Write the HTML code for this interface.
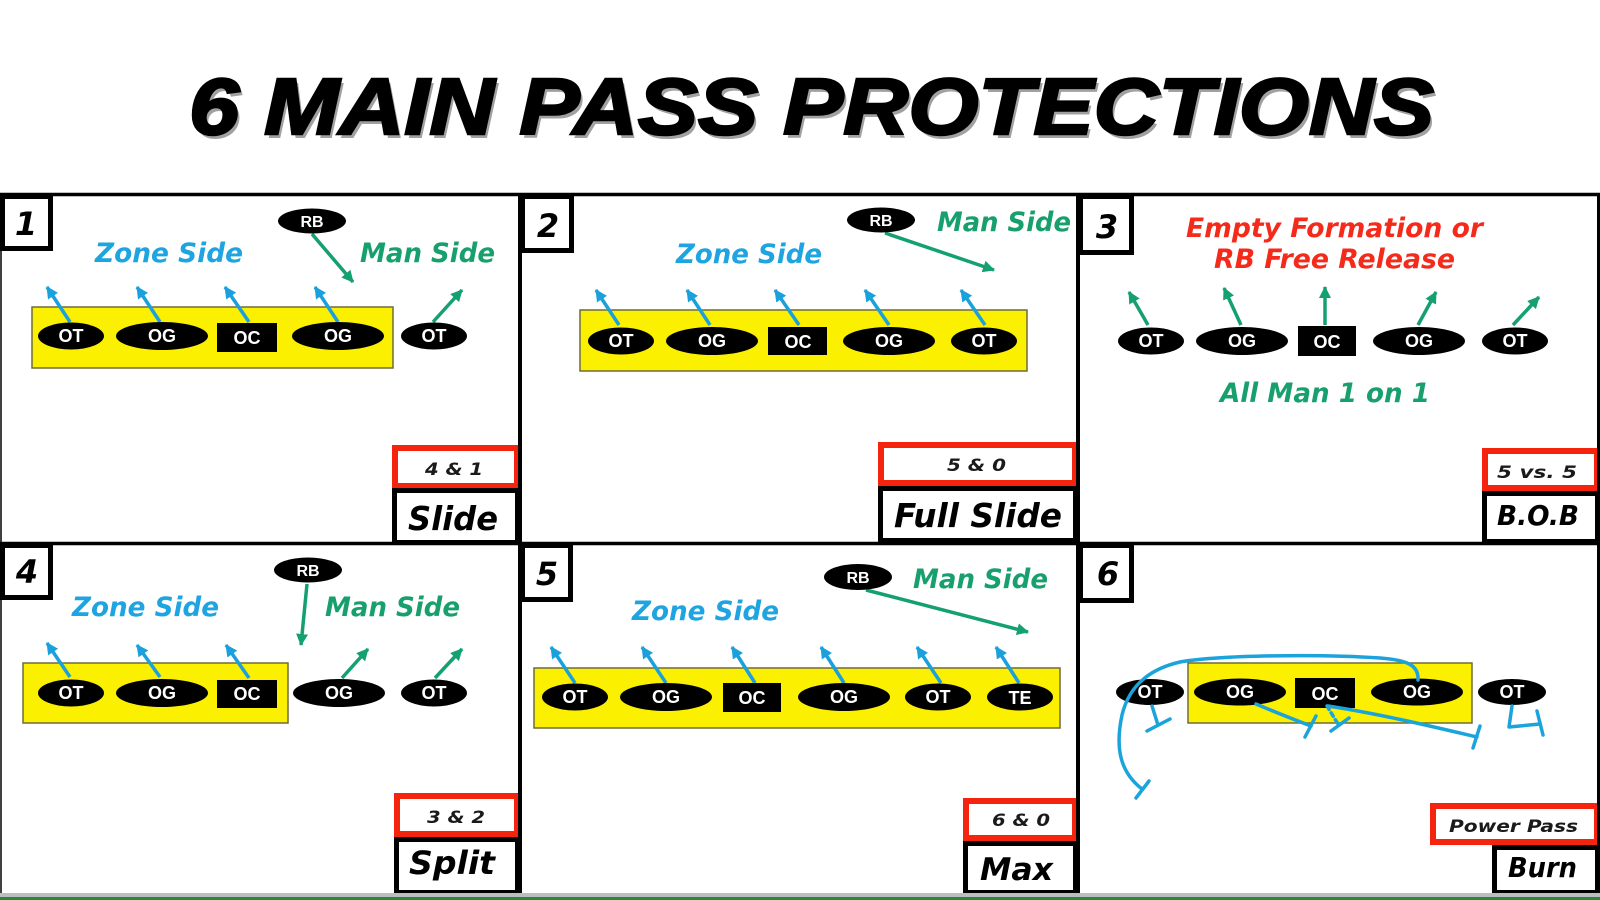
<!DOCTYPE html>
<html>
<head>
<meta charset="utf-8">
<style>
  html, body { margin:0; padding:0; background:#fff; }
  svg { display:block; }
  .lbl { font-family:"DejaVu Sans","Liberation Sans",sans-serif; font-weight:bold; font-style:oblique; }
  .pl { font-family:"Liberation Sans","DejaVu Sans",sans-serif; font-weight:bold; fill:#fff; font-size:18px; }
</style>
</head>
<body>
<svg width="1600" height="900" viewBox="0 0 1600 900" xmlns="http://www.w3.org/2000/svg">
  <defs>
    <marker id="ab" markerUnits="userSpaceOnUse" markerWidth="14" markerHeight="14" refX="11" refY="6" orient="auto">
      <path d="M0,0 L12,6 L0,12 z" fill="#1aa0dc"/>
    </marker>
    <marker id="ag" markerUnits="userSpaceOnUse" markerWidth="14" markerHeight="14" refX="11" refY="6" orient="auto">
      <path d="M0,0 L12,6 L0,12 z" fill="#14a070"/>
    </marker>
  </defs>

  <rect x="0" y="0" width="1600" height="900" fill="#fff"/>

  <!-- Title -->
  <text x="192" y="138" font-family="Liberation Sans, sans-serif" font-weight="bold" font-style="italic" font-size="80" fill="#8a8a8a" textLength="1245" lengthAdjust="spacingAndGlyphs" opacity="0.8">6 MAIN PASS PROTECTIONS</text>
  <text x="189" y="134" font-family="Liberation Sans, sans-serif" font-weight="bold" font-style="italic" font-size="80" fill="#000" stroke="#000" stroke-width="2.5" textLength="1245" lengthAdjust="spacingAndGlyphs">6 MAIN PASS PROTECTIONS</text>

  <!-- Yellow line boxes -->
  <g fill="#fbf000" stroke="#6e6c3a" stroke-width="1.5">
    <rect x="32" y="307" width="361" height="61"/>
    <rect x="580" y="310" width="447" height="61"/>
    <rect x="23" y="663" width="265" height="60"/>
    <rect x="534" y="668" width="526" height="60"/>
    <rect x="1188" y="663" width="284" height="60"/>
  </g>

  <!-- Arrows -->
  <g stroke-width="3.5" fill="none">
    <!-- Panel 1 -->
    <g stroke="#1aa0dc" marker-end="url(#ab)">
      <line x1="70" y1="322" x2="47" y2="287"/>
      <line x1="160" y1="322" x2="137" y2="287"/>
      <line x1="249" y1="322" x2="225" y2="287"/>
      <line x1="338" y1="322" x2="315" y2="287"/>
    </g>
    <g stroke="#14a070" marker-end="url(#ag)">
      <line x1="433" y1="322" x2="462" y2="290"/>
      <line x1="312" y1="234" x2="353" y2="282"/>
    </g>
    <!-- Panel 2 -->
    <g stroke="#1aa0dc" marker-end="url(#ab)">
      <line x1="619" y1="325" x2="596" y2="290"/>
      <line x1="710" y1="325" x2="687" y2="290"/>
      <line x1="799" y1="325" x2="775" y2="290"/>
      <line x1="889" y1="325" x2="865" y2="290"/>
      <line x1="985" y1="325" x2="961" y2="290"/>
    </g>
    <g stroke="#14a070" marker-end="url(#ag)">
      <line x1="885" y1="233" x2="994" y2="270"/>
    </g>
    <!-- Panel 3 -->
    <g stroke="#14a070" marker-end="url(#ag)">
      <line x1="1148" y1="325" x2="1129" y2="292"/>
      <line x1="1241" y1="325" x2="1224" y2="288"/>
      <line x1="1325" y1="325" x2="1325" y2="287"/>
      <line x1="1418" y1="325" x2="1436" y2="292"/>
      <line x1="1513" y1="325" x2="1539" y2="297"/>
    </g>
    <!-- Panel 4 -->
    <g stroke="#1aa0dc" marker-end="url(#ab)">
      <line x1="70" y1="677" x2="47" y2="643"/>
      <line x1="160" y1="677" x2="137" y2="645"/>
      <line x1="249" y1="678" x2="226" y2="645"/>
    </g>
    <g stroke="#14a070" marker-end="url(#ag)">
      <line x1="342" y1="678" x2="368" y2="649"/>
      <line x1="435" y1="678" x2="462" y2="649"/>
      <line x1="307" y1="584" x2="301" y2="645"/>
    </g>
    <!-- Panel 5 -->
    <g stroke="#1aa0dc" marker-end="url(#ab)">
      <line x1="575" y1="683" x2="551" y2="647"/>
      <line x1="666" y1="683" x2="642" y2="647"/>
      <line x1="755" y1="683" x2="732" y2="647"/>
      <line x1="844" y1="683" x2="821" y2="647"/>
      <line x1="941" y1="683" x2="917" y2="647"/>
      <line x1="1019" y1="683" x2="996" y2="647"/>
    </g>
    <g stroke="#14a070" marker-end="url(#ag)">
      <line x1="866" y1="590" x2="1028" y2="632"/>
    </g>
  </g>

  <!-- Players -->
  <g fill="#000">
    <!-- Panel 1 -->
    <ellipse cx="71" cy="336" rx="33" ry="13.5"/>
    <ellipse cx="162" cy="336" rx="46" ry="14"/>
    <rect x="217" y="323" width="60" height="29"/>
    <ellipse cx="338" cy="336" rx="46" ry="14"/>
    <ellipse cx="434" cy="336" rx="33" ry="13.5"/>
    <ellipse cx="312" cy="221" rx="34" ry="12.5"/>
    <!-- Panel 2 -->
    <ellipse cx="621" cy="341" rx="33" ry="13.5"/>
    <ellipse cx="712" cy="341" rx="46" ry="14"/>
    <rect x="768" y="327" width="59" height="28"/>
    <ellipse cx="889" cy="341" rx="46" ry="14"/>
    <ellipse cx="984" cy="341" rx="33" ry="13.5"/>
    <ellipse cx="881" cy="220" rx="34" ry="12.5"/>
    <!-- Panel 3 -->
    <ellipse cx="1151" cy="341" rx="33" ry="13.5"/>
    <ellipse cx="1242" cy="341" rx="46" ry="14"/>
    <rect x="1298" y="326" width="58" height="30"/>
    <ellipse cx="1419" cy="341" rx="46" ry="14"/>
    <ellipse cx="1515" cy="341" rx="33" ry="13.5"/>
    <!-- Panel 4 -->
    <ellipse cx="71" cy="693" rx="33" ry="13.5"/>
    <ellipse cx="162" cy="693" rx="46" ry="14"/>
    <rect x="217" y="680" width="60" height="28"/>
    <ellipse cx="339" cy="693" rx="46" ry="14"/>
    <ellipse cx="434" cy="693" rx="33" ry="13.5"/>
    <ellipse cx="308" cy="570" rx="34" ry="12.5"/>
    <!-- Panel 5 -->
    <ellipse cx="575" cy="697" rx="33" ry="13.5"/>
    <ellipse cx="666" cy="697" rx="46" ry="14"/>
    <rect x="723" y="683" width="58" height="29"/>
    <ellipse cx="844" cy="697" rx="46" ry="14"/>
    <ellipse cx="938" cy="697" rx="33" ry="13.5"/>
    <ellipse cx="1020" cy="697" rx="33" ry="13.5"/>
    <ellipse cx="858" cy="577" rx="34" ry="13"/>
    <!-- Panel 6 -->
    <ellipse cx="1150" cy="692" rx="34" ry="13"/>
    <ellipse cx="1240" cy="692" rx="46" ry="13.5"/>
    <rect x="1295" y="678" width="60" height="30"/>
    <ellipse cx="1417" cy="692" rx="46" ry="13.5"/>
    <ellipse cx="1512" cy="692" rx="34" ry="13"/>
  </g>

  <!-- Player labels -->
  <g class="pl" text-anchor="middle">
    <text x="71" y="342">OT</text><text x="162" y="342">OG</text><text x="247" y="344">OC</text><text x="338" y="342">OG</text><text x="434" y="342">OT</text>
    <text x="312" y="227" font-size="16">RB</text>
    <text x="621" y="347">OT</text><text x="712" y="347">OG</text><text x="798" y="348">OC</text><text x="889" y="347">OG</text><text x="984" y="347">OT</text>
    <text x="881" y="226" font-size="16">RB</text>
    <text x="1151" y="347">OT</text><text x="1242" y="347">OG</text><text x="1327" y="348">OC</text><text x="1419" y="347">OG</text><text x="1515" y="347">OT</text>
    <text x="71" y="699">OT</text><text x="162" y="699">OG</text><text x="247" y="700">OC</text><text x="339" y="699">OG</text><text x="434" y="699">OT</text>
    <text x="308" y="576" font-size="16">RB</text>
    <text x="575" y="703">OT</text><text x="666" y="703">OG</text><text x="752" y="704">OC</text><text x="844" y="703">OG</text><text x="938" y="703">OT</text><text x="1020" y="704">TE</text>
    <text x="858" y="583" font-size="16">RB</text>
    <text x="1150" y="698">OT</text><text x="1240" y="698">OG</text><text x="1325" y="700">OC</text><text x="1417" y="698">OG</text><text x="1512" y="698">OT</text>
  </g>

  <!-- Panel 6 blocking lines -->
  <g stroke="#1ba3dc" stroke-width="3.5" fill="none" stroke-linecap="round" stroke-linejoin="round">
    <path d="M1418,680 C1419,664 1405,660 1380,658 C1320,654 1220,655 1180,662 C1145,670 1128,690 1122,715 C1115,748 1120,772 1142,789"/>
    <line x1="1136" y1="798" x2="1149" y2="781"/>
    <line x1="1152" y1="706" x2="1158" y2="725"/>
    <line x1="1147" y1="731" x2="1170" y2="719"/>
    <path d="M1256,704 C1275,712 1295,720 1311,726"/>
    <line x1="1305" y1="737" x2="1316" y2="716"/>
    <line x1="1327" y1="706" x2="1338" y2="724" stroke-dasharray="4,4"/>
    <line x1="1331" y1="731" x2="1349" y2="718"/>
    <path d="M1328,706 C1380,714 1430,726 1477,737"/>
    <line x1="1473" y1="748" x2="1480" y2="726"/>
    <polyline points="1512,706 1509,727 1540,724"/>
    <line x1="1537" y1="711" x2="1543" y2="735"/>
  </g>

  <!-- Side labels -->
  <g class="lbl" font-size="27">
    <text x="95" y="262" fill="#1ea4e0" textLength="148" lengthAdjust="spacingAndGlyphs">Zone Side</text>
    <text x="360" y="262" fill="#17a06e" textLength="135" lengthAdjust="spacingAndGlyphs">Man Side</text>
    <text x="676" y="263" fill="#1ea4e0" textLength="146" lengthAdjust="spacingAndGlyphs">Zone Side</text>
    <text x="937" y="231" fill="#17a06e" textLength="134" lengthAdjust="spacingAndGlyphs">Man Side</text>
    <text x="1186" y="237" fill="#f42a1a" textLength="297" lengthAdjust="spacingAndGlyphs">Empty Formation or</text>
    <text x="1214" y="268" fill="#f42a1a" textLength="241" lengthAdjust="spacingAndGlyphs">RB Free Release</text>
    <text x="1220" y="402" fill="#17a06e" textLength="210" lengthAdjust="spacingAndGlyphs">All Man 1 on 1</text>
    <text x="72" y="616" fill="#1ea4e0" textLength="147" lengthAdjust="spacingAndGlyphs">Zone Side</text>
    <text x="325" y="616" fill="#17a06e" textLength="135" lengthAdjust="spacingAndGlyphs">Man Side</text>
    <text x="632" y="620" fill="#1ea4e0" textLength="147" lengthAdjust="spacingAndGlyphs">Zone Side</text>
    <text x="913" y="588" fill="#17a06e" textLength="135" lengthAdjust="spacingAndGlyphs">Man Side</text>
  </g>

  <!-- Red label boxes -->
  <g fill="#fff" stroke="#f5240f" stroke-width="6">
    <rect x="395" y="448" width="122" height="38"/>
    <rect x="881" y="445" width="194" height="38"/>
    <rect x="1485" y="451" width="112" height="37"/>
    <rect x="397" y="796" width="120" height="38"/>
    <rect x="966" y="801" width="109" height="37"/>
    <rect x="1433" y="806" width="164" height="36"/>
  </g>
  <!-- Black name boxes -->
  <g fill="#fff" stroke="#000" stroke-width="5">
    <rect x="394.5" y="490.5" width="123" height="52"/>
    <rect x="880.5" y="488.5" width="195" height="52"/>
    <rect x="1484.5" y="493.5" width="113" height="48"/>
    <rect x="396.5" y="839.5" width="121" height="53"/>
    <rect x="965.5" y="843.5" width="110" height="49"/>
    <rect x="1494.5" y="847.5" width="103" height="45"/>
  </g>

  <g class="lbl" fill="#1a1a1a" font-size="17">
    <text x="425" y="475" textLength="58" lengthAdjust="spacingAndGlyphs">4 &amp; 1</text>
    <text x="947" y="471" textLength="59" lengthAdjust="spacingAndGlyphs">5 &amp; 0</text>
    <text x="1497" y="478" textLength="80" lengthAdjust="spacingAndGlyphs">5 vs. 5</text>
    <text x="427" y="823" textLength="58" lengthAdjust="spacingAndGlyphs">3 &amp; 2</text>
    <text x="992" y="826" textLength="58" lengthAdjust="spacingAndGlyphs">6 &amp; 0</text>
    <text x="1449" y="832" textLength="129" lengthAdjust="spacingAndGlyphs">Power Pass</text>
  </g>
  <g class="lbl" fill="#000">
    <text x="408" y="530" font-size="33" textLength="90" lengthAdjust="spacingAndGlyphs">Slide</text>
    <text x="894" y="527" font-size="33" textLength="168" lengthAdjust="spacingAndGlyphs">Full Slide</text>
    <text x="1497" y="525" font-size="28" textLength="82" lengthAdjust="spacingAndGlyphs">B.O.B</text>
    <text x="409" y="874" font-size="32" textLength="86" lengthAdjust="spacingAndGlyphs">Split</text>
    <text x="980" y="880" font-size="31" textLength="73" lengthAdjust="spacingAndGlyphs">Max</text>
    <text x="1508" y="877" font-size="28" textLength="69" lengthAdjust="spacingAndGlyphs">Burn</text>
  </g>

  <!-- Dividers -->
  <g stroke="#000" fill="none">
    <line x1="0" y1="194.5" x2="1600" y2="194.5" stroke-width="3.5"/>
    <line x1="0" y1="543.5" x2="1600" y2="543.5" stroke-width="3.5"/>
    <line x1="520" y1="193" x2="520" y2="895" stroke-width="4"/>
    <line x1="1078" y1="193" x2="1078" y2="895" stroke-width="4"/>
    <line x1="1598.5" y1="193" x2="1598.5" y2="895" stroke-width="3"/>
    <line x1="1" y1="193" x2="1" y2="893" stroke-width="1.5"/>
  </g>

  <!-- Number boxes -->
  <g fill="#fff" stroke="#000" stroke-width="5">
    <rect x="2.5" y="196.5" width="48" height="52"/>
    <rect x="522.5" y="196.5" width="49" height="54"/>
    <rect x="1080.5" y="196.5" width="51" height="56"/>
    <rect x="2.5" y="545.5" width="48" height="52"/>
    <rect x="522.5" y="545.5" width="48" height="54"/>
    <rect x="1080.5" y="545.5" width="51" height="55"/>
  </g>
  <g class="lbl" fill="#000" font-size="32" text-anchor="middle">
    <text x="26" y="235">1</text>
    <text x="548" y="237">2</text>
    <text x="1107" y="238">3</text>
    <text x="27" y="583">4</text>
    <text x="547" y="585">5</text>
    <text x="1108" y="585">6</text>
  </g>

  <!-- Bottom strip -->
  <rect x="0" y="893" width="1600" height="4" fill="#bdbdbd"/>
  <rect x="0" y="897" width="1600" height="3" fill="#1f8b3b"/>
</svg>
</body>
</html>
